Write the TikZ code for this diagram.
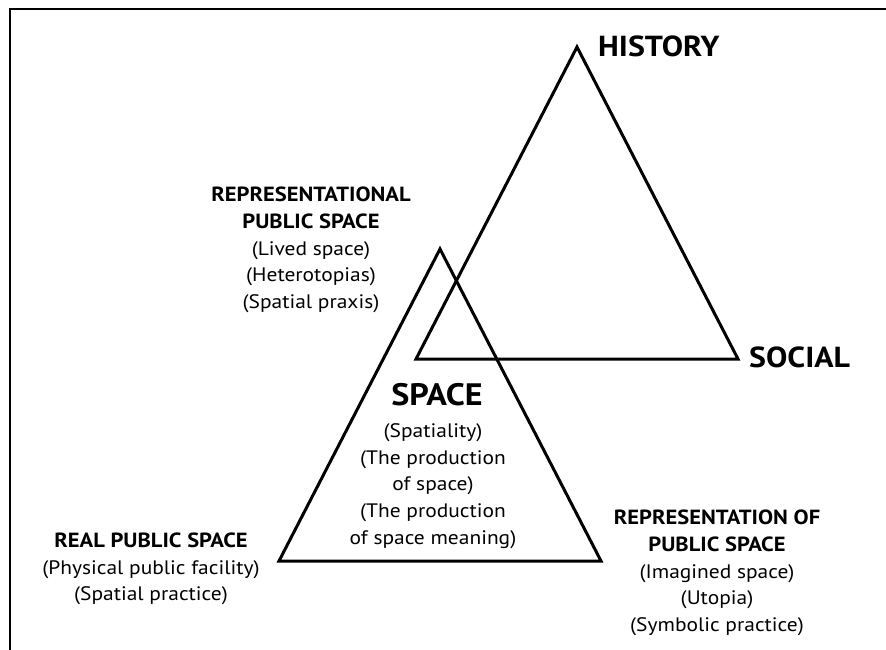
\documentclass[tikz,border=0pt]{standalone}
\usepackage{fontspec}
\setmainfont{PT Sans}[FakeStretch=1.1]
\begin{document}
\begin{tikzpicture}[x=1pt,y=-1pt,
  tri/.style={line width=3pt,line join=miter},
  frame/.style={line width=2pt},
  big/.style={font=\bfseries\fontsize{29}{31}\selectfont,inner sep=0pt},
  block/.style={align=center,inner sep=0pt,font=\fontsize{19.5}{26.8}\selectfont},
  head/.style={font=\bfseries\fontsize{20.5}{26.8}\selectfont},
]
\useasboundingbox (0,0) rectangle (886,650);
% page frame (left and top edges only)
\draw[frame] (10,650) -- (10,9) -- (886,9);

% upper triangle: history / social
\coordinate (hA) at (577,47);
\coordinate (hL) at (416,359);
\coordinate (hR) at (738,359);
\draw[tri] (hA) -- (hL) -- (hR) -- cycle;

% lower triangle: space
\coordinate (sA) at (440,249);
\coordinate (sL) at (279,561);
\coordinate (sR) at (601,561);
\draw[tri] (sA) -- (sL) -- (sR) -- cycle;

\node[big,anchor=west] (history) at (598,46) {HISTORY};
\node[big,anchor=west] (social) at (749,357) {SOCIAL};

\node[block] (repr) at (311,250) {{\bfseries\fontsize{20.5}{26.8}\selectfont REPRESENTATIONAL}\\{\bfseries\fontsize{20.5}{26.8}\selectfont PUBLIC SPACE}\\(Lived space)\\(Heterotopias)\\(Spatial praxis)};

\node[big,font=\bfseries\fontsize{31}{33}\selectfont] (space) at (437,395) {SPACE};
\node[block] (spacesub) at (433,486) {(Spatiality)\\(The production\\of space)\\(The production\\of space meaning)};

\node[block] (real) at (151,569) {{\bfseries\fontsize{20.5}{26.8}\selectfont REAL PUBLIC SPACE}\\(Physical public facility)\\(Spatial practice)};

\node[block] (reprof) at (717,573) {{\bfseries\fontsize{20.5}{26.8}\selectfont REPRESENTATION OF}\\{\bfseries\fontsize{20.5}{26.8}\selectfont PUBLIC SPACE}\\(Imagined space)\\(Utopia)\\(Symbolic practice)};
\end{tikzpicture}
\end{document}
